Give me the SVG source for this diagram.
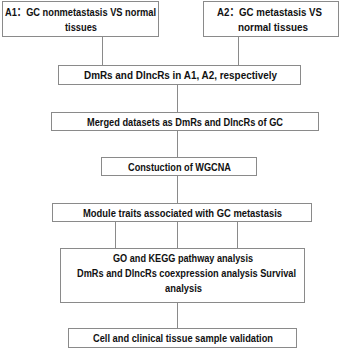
<svg xmlns="http://www.w3.org/2000/svg" width="342" height="351" viewBox="0 0 342 351">
<style>
  .box { fill: #ffffff; stroke: #8a8a8a; stroke-width: 1; }
  .lbl { font-family: "Liberation Sans Narrow", "Liberation Sans", "Noto Sans CJK SC", sans-serif; font-weight: bold; font-size: 11.5px; fill: #111111; text-anchor: middle; }
  .lbl.sm { font-size: 10.6px; }
  .conn line { stroke: #8a8a8a; stroke-width: 1; }
</style>
<rect width="342" height="351" fill="#ffffff"/>
<g id="connectors" class="conn">
  <line x1="102.5" y1="37" x2="102.5" y2="65"/>
  <line x1="238.5" y1="37" x2="238.5" y2="65"/>
  <line x1="177.5" y1="85" x2="177.5" y2="112"/>
  <line x1="177.5" y1="131" x2="177.5" y2="157"/>
  <line x1="177.5" y1="176" x2="177.5" y2="203"/>
  <line x1="115.5" y1="222" x2="115.5" y2="248"/>
  <line x1="177.5" y1="222" x2="177.5" y2="248"/>
  <line x1="237.5" y1="222" x2="237.5" y2="248"/>
  <line x1="177.5" y1="303" x2="177.5" y2="328"/>
</g>
<g id="a1">
  <rect class="box" x="2.5" y="1.5" width="156" height="35"/>
  <text class="lbl" x="80.5" y="16" textLength="151" lengthAdjust="spacingAndGlyphs">A1：GC nonmetastasis VS normal</text>
  <text class="lbl" x="81" y="31" textLength="32" lengthAdjust="spacingAndGlyphs">tissues</text>
</g>
<g id="a2">
  <rect class="box" x="203.5" y="1.5" width="135" height="35"/>
  <text class="lbl" x="269.5" y="16" textLength="105" lengthAdjust="spacingAndGlyphs">A2：GC metastasis VS</text>
  <text class="lbl" x="273" y="31" textLength="70" lengthAdjust="spacingAndGlyphs">normal tissues</text>
</g>
<g id="dmrs">
  <rect class="box" x="58.5" y="65.5" width="242" height="19"/>
  <text class="lbl" x="180.5" y="79" textLength="193" lengthAdjust="spacingAndGlyphs">DmRs and DlncRs in A1, A2, respectively</text>
</g>
<g id="merged">
  <rect class="box" x="51.5" y="112.5" width="267" height="18"/>
  <text class="lbl" x="185" y="125.5" textLength="196" lengthAdjust="spacingAndGlyphs">Merged datasets as DmRs and DlncRs of GC</text>
</g>
<g id="wgcna">
  <rect class="box" x="101.5" y="157.5" width="155" height="18"/>
  <text class="lbl" x="179.5" y="170.5" textLength="103" lengthAdjust="spacingAndGlyphs">Constuction of WGCNA</text>
</g>
<g id="module">
  <rect class="box" x="52.5" y="203.5" width="259" height="18"/>
  <text class="lbl" x="182.5" y="216.5" textLength="199" lengthAdjust="spacingAndGlyphs">Module traits associated with GC metastasis</text>
</g>
<g id="analysis">
  <rect class="box" x="60.5" y="248.5" width="244" height="54"/>
  <text class="lbl" x="183" y="262" textLength="140" lengthAdjust="spacingAndGlyphs">GO and KEGG pathway analysis</text>
  <text class="lbl sm" x="186.5" y="277" textLength="219" lengthAdjust="spacingAndGlyphs">DmRs and DlncRs coexpression analysis Survival</text>
  <text class="lbl" x="183.5" y="292" textLength="37" lengthAdjust="spacingAndGlyphs">analysis</text>
</g>
<g id="validation">
  <rect class="box" x="68.5" y="328.5" width="228" height="19"/>
  <text class="lbl" x="183" y="342" textLength="180" lengthAdjust="spacingAndGlyphs">Cell and clinical tissue sample validation</text>
</g>
</svg>
